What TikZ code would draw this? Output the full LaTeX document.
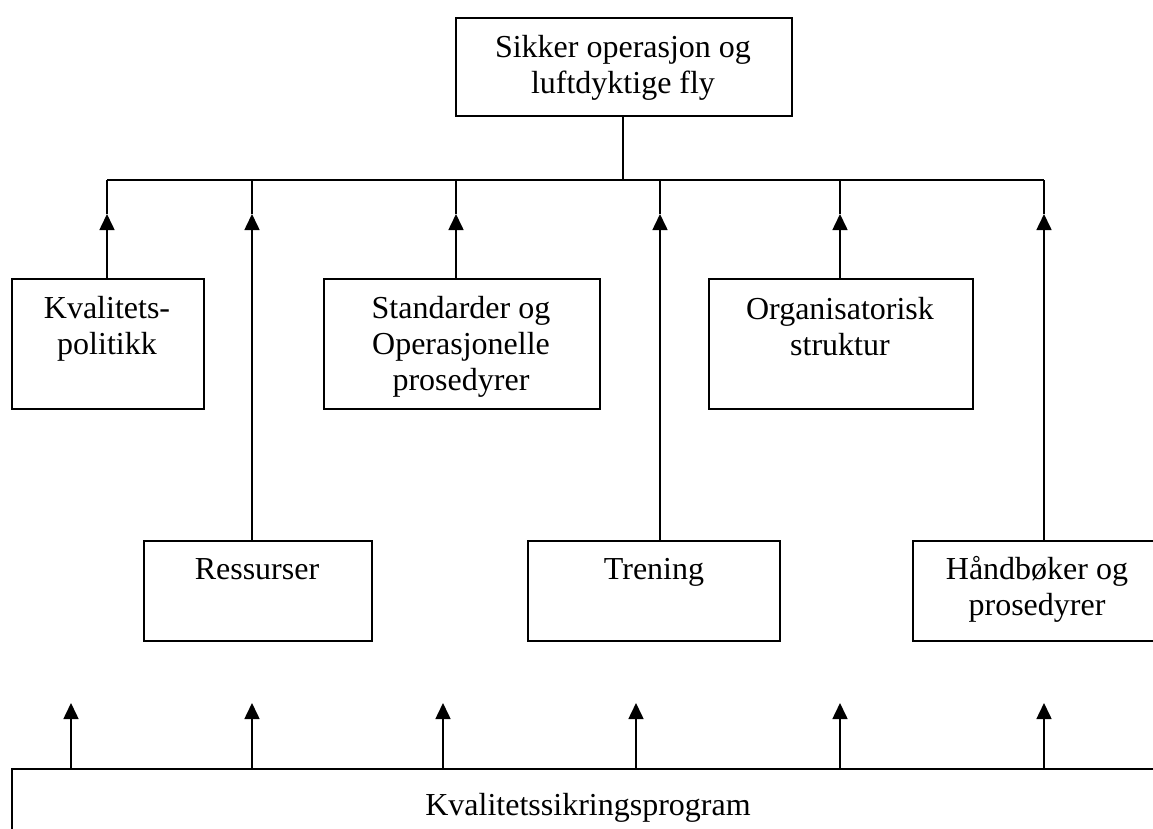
\documentclass[tikz,border=0pt]{standalone}
\usepackage{fontspec}
\setmainfont{Liberation Serif}
\usetikzlibrary{arrows.meta}
\tikzset{
  box/.style={draw, line width=1.6pt, inner sep=0pt, anchor=north west},
  lbl/.style={inner sep=0pt, anchor=north, align=center, font=\fontsize{32}{36}\selectfont},
  con/.style={line width=1.6pt},
  arr/.style={con, -{Triangle[width=15pt,length=16pt]}},
}
\begin{document}
\begin{tikzpicture}[x=1pt,y=-1pt]
\useasboundingbox (0,0) rectangle (1153,828);
\clip (0,0) rectangle (1153,828);
% boxes
\node[box, minimum width=336pt, minimum height=98pt] (top) at (455,17) {};
\node[box, minimum width=192pt, minimum height=130pt] (kval) at (11,278) {};
\node[box, minimum width=276pt, minimum height=130pt] (stand) at (323,278) {};
\node[box, minimum width=264pt, minimum height=130pt] (org) at (708,278) {};
\node[box, minimum width=228pt, minimum height=100pt] (ress) at (143,540) {};
\node[box, minimum width=252pt, minimum height=100pt] (tren) at (527,540) {};
\node[box, minimum width=252pt, minimum height=100pt] (hand) at (912,540) {};
\node[box, minimum width=1170pt, minimum height=110pt] (prog) at (11,768) {};
% labels
\node[lbl] (ltop) at (623,35) {Sikker operasjon og\\luftdyktige fly};
\node[lbl] (lkval) at (107,296) {Kvalitets-\\politikk};
\node[lbl] (lstand) at (461,296) {Standarder og\\Operasjonelle\\prosedyrer};
\node[lbl] (lorg) at (840,297) {Organisatorisk\\struktur};
\node[lbl] (lress) at (257,558) {Ressurser};
\node[lbl] (ltren) at (654,558) {Trening};
\node[lbl] (lhand) at (1037,556) {Håndbøker og\\prosedyrer};
\node[lbl] (lprog) at (588,793) {Kvalitetssikringsprogram};
% bus
\coordinate (b1) at (107,180);
\coordinate (b2) at (252,180);
\coordinate (b3) at (456,180);
\coordinate (b4) at (660,180);
\coordinate (b5) at (840,180);
\coordinate (b6) at (1044,180);
\coordinate (bt) at (623,180);
\draw[con] (b1) -- (b6);
\draw[con] (top.south -| bt) -- (bt);
% upper arrows
\foreach \b/\n in {b1/kval, b2/ress, b3/stand, b4/tren, b5/org, b6/hand}{
  \coordinate (t\b) at ([yshift=-34pt]\b);
  \draw[arr] (\b |- \n.north) -- (t\b);
  \draw[con] (t\b) -- (\b);
}
% lower arrows
\foreach \i/\x in {1/71, 2/252, 3/443, 4/636, 5/840, 6/1044}{
  \coordinate (u\i) at (\x,703);
  \draw[arr] (u\i |- prog.north) -- (u\i);
}
\end{tikzpicture}
\end{document}
